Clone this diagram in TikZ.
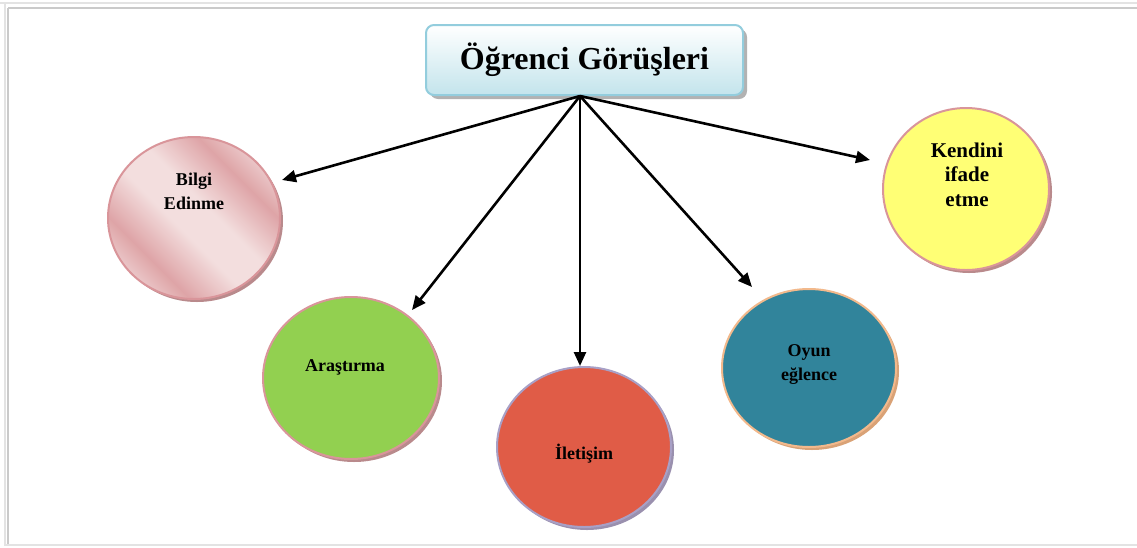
\documentclass[tikz,border=0pt]{standalone}
\usepackage{fontspec}
\setmainfont{Liberation Serif}
\usetikzlibrary{shapes.geometric,arrows.meta,calc}
\definecolor{frameA}{HTML}{E3E3E3}
\definecolor{frameB}{HTML}{CACACA}
\definecolor{titleBorder}{HTML}{93CDDD}
\definecolor{titleFill}{HTML}{C3E4EC}
\definecolor{pinkBorder}{HTML}{D9959A}
\definecolor{pinkShadow}{HTML}{B98A8C}
\definecolor{pinkDark}{HTML}{DEA4A7}
\definecolor{pinkMid}{HTML}{E6BDBF}
\definecolor{pinkLight}{HTML}{F3DEDE}
\definecolor{greenFill}{HTML}{92D050}
\definecolor{redFill}{HTML}{E05C47}
\definecolor{purpleBorder}{HTML}{A8A0C6}
\definecolor{purpleShadow}{HTML}{9A90AE}
\definecolor{tealFill}{HTML}{31849B}
\definecolor{orangeBorder}{HTML}{F2B98C}
\definecolor{orangeShadow}{HTML}{D9A276}
\definecolor{yellowFill}{HTML}{FFFF75}
\pgfdeclarehorizontalshading{pinkband}{100bp}{color(0bp)=(pinkLight); color(20bp)=(pinkLight); color(32bp)=(pinkDark); color(45bp)=(pinkLight); color(55bp)=(pinkLight); color(68bp)=(pinkDark); color(80bp)=(pinkLight); color(100bp)=(pinkLight)}
\tikzset{
  bubble/.style={ellipse, line width=2pt, inner sep=0pt, outer sep=0pt},
  bubbleshadow/.style={ellipse, inner sep=0pt, outer sep=0pt},
  btext/.style={font=\fontsize{18}{24}\selectfont\bfseries, align=center, inner sep=0pt},
  connector/.style={line width=2.6pt, -{Triangle[length=14pt,width=12pt]}},
}
\begin{document}
\begin{tikzpicture}[x=1pt,y=-1pt]
\useasboundingbox (0,0) rectangle (1137,547);
% frame
\draw[frameA, line width=2pt] (0,2.5) -- (1137,2.5);
\draw[frameB, line width=2pt] (8,7.5) -- (1137,7.5);
\draw[frameA, line width=2pt] (5,2.5) -- (5,546);
\draw[frameB, line width=2pt] (8,7.5) -- (8,544);
\draw[frameA, line width=2pt] (5,545) -- (1137,545);

% title
\fill[gray!60, rounded corners=8pt] (430,29) rectangle (747,99);
\node[draw=titleBorder, line width=2pt, rounded corners=8pt, top color=white, bottom color=titleFill,
      minimum width=317pt, minimum height=70pt, inner sep=0pt,
      font=\fontsize{32}{36}\selectfont\bfseries] (title) at (584.5,60) {Öğrenci Görüşleri};

% shadows
\node[bubbleshadow, fill=pinkShadow, minimum width=172pt, minimum height=162pt] (bilgiS) at (197,221) {};
\node[bubbleshadow, fill=pinkShadow, minimum width=176pt, minimum height=162pt] (arasS) at (354,381) {};
\node[bubbleshadow, fill=purpleShadow, minimum width=174pt, minimum height=160pt] (iletS) at (587,450) {};
\node[bubbleshadow, fill=orangeShadow, minimum width=174pt, minimum height=158pt] (oyunS) at (812,371) {};
\node[bubbleshadow, fill=pinkShadow, minimum width=166pt, minimum height=162pt] (kendS) at (969,192) {};

% bubbles
\node[bubble, draw=pinkBorder, shading=pinkband, shading angle=45,
      minimum width=172pt, minimum height=162pt] (bilgi) at (194,218) {};
\node[bubble, draw=pinkBorder, fill=greenFill, minimum width=176pt, minimum height=162pt] (aras) at (351,378) {};
\node[bubble, draw=purpleBorder, fill=redFill, minimum width=174pt, minimum height=160pt] (ilet) at (584,447) {};
\node[bubble, draw=orangeBorder, fill=tealFill, minimum width=174pt, minimum height=158pt] (oyun) at (809,368) {};
\node[bubble, draw=pinkBorder, fill=yellowFill, minimum width=166pt, minimum height=162pt] (kend) at (966,189) {};

% texts (base = baseline of last line)
\node[btext, anchor=base] (bilgiT) at (194,209) {Bilgi\\Edinme};
\node[btext, anchor=base] (arasT) at (345,371) {Araştırma};
\node[btext, anchor=base] (iletT) at (584,459) {İletişim};
\node[btext, anchor=base] (oyunT) at (809,380) {Oyun\\eğlence};
\node[btext, anchor=base, font=\fontsize{21}{24.5}\selectfont\bfseries] (kendT) at (967,206) {Kendini\\ifade\\etme};

% connectors
\coordinate (hub) at ([xshift=-4.5pt]title.south);
\coordinate (bilgiTip) at ($(bilgi.center)+(88,-38)$);
\coordinate (arasTip) at ($(aras.center)+(61,-68)$);
\coordinate (iletTip) at ($(ilet.center)+(-4,-81)$);
\coordinate (oyunTip) at ($(oyun.center)+(-57,-81)$);
\coordinate (kendTip) at ($(kend.center)+(-96,-29)$);
\draw[connector] (hub) -- (bilgiTip);
\draw[connector] (hub) -- (arasTip);
\draw[connector] (hub) -- (iletTip);
\draw[connector] (hub) -- (oyunTip);
\draw[connector] (hub) -- (kendTip);
\end{tikzpicture}
\end{document}
